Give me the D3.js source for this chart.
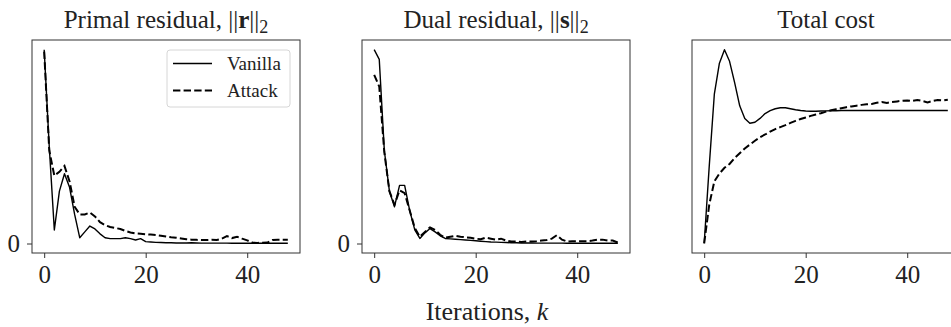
<!DOCTYPE html>
<html>
<head>
<meta charset="utf-8">
<script src="https://cdn.jsdelivr.net/npm/d3@7"></script>
<style>
  body { margin: 0; background: #fff; }
  svg { display: block; }
</style>
</head>
<body>
<div id="chart"></div>
<script>
// iteration index k = 0..48
const iterations = d3.range(0, 49);

// Primal residual ||r||_2 (normalised)
const primalVanilla = [1.0, 0.5, 0.07, 0.27, 0.36, 0.29, 0.15, 0.03, 0.06, 0.09,
  0.075, 0.05, 0.03, 0.025, 0.025, 0.025, 0.03, 0.025, 0.018, 0.025,
  0.01, 0.008, 0.006, 0.005, 0.004, 0.004, 0.003, 0.003, 0.003, 0.004,
  0.003, 0.002, 0.002, 0.002, 0.002, 0.002, 0.002, 0.001, 0.001, 0.001,
  0.001, 0.001, 0.001, 0.001, 0.001, 0.001, 0.001, 0.001, 0.001];
const primalAttack = [0.99, 0.48, 0.35, 0.37, 0.40, 0.32, 0.19, 0.15, 0.15, 0.16,
  0.14, 0.11, 0.095, 0.085, 0.08, 0.075, 0.065, 0.057, 0.052, 0.05,
  0.048, 0.046, 0.044, 0.04, 0.036, 0.032, 0.03, 0.026, 0.022, 0.02,
  0.019, 0.018, 0.018, 0.019, 0.018, 0.025, 0.038, 0.028, 0.035, 0.025,
  0.016, 0.005, 0.003, 0.004, 0.005, 0.018, 0.02, 0.02, 0.02];

// Dual residual ||s||_2 (normalised)
const dualVanilla = [1.0, 0.95, 0.48, 0.27, 0.19, 0.30, 0.30, 0.17, 0.07, 0.026,
  0.055, 0.077, 0.06, 0.04, 0.026, 0.024, 0.022, 0.02, 0.018, 0.016,
  0.014, 0.012, 0.01, 0.008, 0.007, 0.006, 0.005, 0.004, 0.004, 0.003,
  0.003, 0.003, 0.002, 0.002, 0.002, 0.002, 0.002, 0.002, 0.001, 0.001,
  0.001, 0.001, 0.001, 0.001, 0.001, 0.001, 0.001, 0.001, 0.001];
const dualAttack = [0.87, 0.81, 0.47, 0.27, 0.20, 0.275, 0.26, 0.17, 0.08, 0.035,
  0.06, 0.083, 0.07, 0.045, 0.03, 0.035, 0.04, 0.035, 0.032, 0.03,
  0.025, 0.022, 0.03, 0.025, 0.02, 0.025, 0.015, 0.01, 0.01, 0.008,
  0.01, 0.01, 0.012, 0.015, 0.018, 0.025, 0.043, 0.02, 0.01, 0.012,
  0.012, 0.012, 0.012, 0.015, 0.02, 0.02, 0.015, 0.015, 0.005];

// Total cost (normalised)
const costVanilla = [0, 0.40, 0.77, 0.93, 1.0, 0.94, 0.83, 0.71, 0.645, 0.62,
  0.625, 0.645, 0.67, 0.685, 0.695, 0.70, 0.70, 0.695, 0.69, 0.686,
  0.683, 0.682, 0.682, 0.683, 0.684, 0.685, 0.685, 0.686, 0.686, 0.686,
  0.686, 0.686, 0.686, 0.686, 0.686, 0.686, 0.686, 0.686, 0.686, 0.686,
  0.686, 0.686, 0.686, 0.686, 0.686, 0.686, 0.686, 0.686, 0.686];
const costAttack = [0, 0.2, 0.32, 0.36, 0.39, 0.41, 0.44, 0.465, 0.49, 0.51,
  0.53, 0.548, 0.562, 0.577, 0.59, 0.60, 0.61, 0.622, 0.632, 0.642,
  0.65, 0.658, 0.665, 0.672, 0.68, 0.687, 0.693, 0.698, 0.703, 0.707,
  0.711, 0.715, 0.718, 0.72, 0.726, 0.73, 0.725, 0.73, 0.733, 0.736,
  0.738, 0.735, 0.74, 0.735, 0.728, 0.735, 0.74, 0.738, 0.742];

const xTicks = [0, 20, 40];
const seriesNames = ['Vanilla', 'Attack'];

const W = 951, H = 327;
const frameW = 268, frameTop = 40, frameBottom = 253;
const textColor = '#222';
const serif = '"Liberation Serif", "DejaVu Serif", serif';

const panels = [
  { left: 32, title: ['Primal residual, ||', 'r', '||', '2'], vanilla: primalVanilla, attack: primalAttack, yTicks: [0], legend: true },
  { left: 362, title: ['Dual residual, ||', 's', '||', '2'], vanilla: dualVanilla, attack: dualAttack, yTicks: [0], legend: false },
  { left: 692, title: ['Total cost'], vanilla: costVanilla, attack: costAttack, yTicks: [], legend: false }
];

const svg = d3.select('#chart').append('svg')
  .attr('width', W)
  .attr('height', H)
  .attr('viewBox', `0 0 ${W} ${H}`);

// same padding rule as matplotlib: 5% of the data range on each side
const padded = (lo, hi) => {
  const p = (hi - lo) * 0.05;
  return [lo - p, hi + p];
};

panels.forEach(panel => {
  const g = svg.append('g');

  const x = d3.scaleLinear()
    .domain(padded(d3.min(iterations), d3.max(iterations)))
    .range([panel.left, panel.left + frameW]);

  const allVals = panel.vanilla.concat(panel.attack);
  const y = d3.scaleLinear()
    .domain(padded(d3.min(allVals), d3.max(allVals)))
    .range([frameBottom, frameTop]);

  // lines
  const line = vals => d3.line()
    .x((d, i) => x(iterations[i]))
    .y(d => y(d))(vals);

  g.append('path')
    .attr('d', line(panel.vanilla))
    .attr('fill', 'none')
    .attr('stroke', '#000')
    .attr('stroke-width', 1.4)
    .attr('stroke-linejoin', 'round');

  g.append('path')
    .attr('d', line(panel.attack))
    .attr('fill', 'none')
    .attr('stroke', '#000')
    .attr('stroke-width', 2)
    .attr('stroke-dasharray', '7.4,3.2');

  // frame
  g.append('rect')
    .attr('x', panel.left)
    .attr('y', frameTop)
    .attr('width', frameW)
    .attr('height', frameBottom - frameTop)
    .attr('fill', 'none')
    .attr('stroke', '#333')
    .attr('stroke-width', 1);

  // axes
  const xAxis = g.append('g')
    .attr('transform', `translate(0, ${frameBottom})`)
    .call(d3.axisBottom(x).tickValues(xTicks).tickSize(5).tickPadding(7).tickFormat(d3.format('d')));

  const yAxis = g.append('g')
    .attr('transform', `translate(${panel.left}, 0)`)
    .call(d3.axisLeft(y).tickValues(panel.yTicks).tickSize(5).tickPadding(7).tickFormat(d3.format('d')));

  [xAxis, yAxis].forEach(a => {
    a.select('.domain').remove();
    a.selectAll('.tick line').attr('stroke', '#333');
    a.selectAll('text')
      .attr('fill', textColor)
      .style('font-family', serif)
      .style('font-size', '25px');
  });

  // title
  const t = g.append('text')
    .attr('x', panel.left + frameW / 2)
    .attr('y', 28)
    .attr('text-anchor', 'middle')
    .attr('fill', textColor)
    .style('font-family', serif)
    .style('font-size', '25px');
  t.append('tspan').text(panel.title[0]);
  if (panel.title.length > 1) {
    t.append('tspan').attr('font-weight', 'bold').text(panel.title[1]);
    t.append('tspan').text(panel.title[2]);
    t.append('tspan').attr('font-size', '18px').attr('dy', 5).text(panel.title[3]);
  }

  // legend
  if (panel.legend) {
    const lg = g.append('g').attr('transform', 'translate(167, 50)');
    lg.append('rect')
      .attr('width', 123)
      .attr('height', 57)
      .attr('rx', 3)
      .attr('fill', 'rgba(255,255,255,0.8)')
      .attr('stroke', '#d6d6d6');
    seriesNames.forEach((name, i) => {
      const yy = 13.5 + i * 27;
      lg.append('line')
        .attr('x1', 6).attr('x2', 45)
        .attr('y1', yy).attr('y2', yy)
        .attr('stroke', '#000')
        .attr('stroke-width', i === 0 ? 1.4 : 2)
        .attr('stroke-dasharray', i === 0 ? null : '7.4,3.2');
      lg.append('text')
        .attr('x', 60)
        .attr('y', yy)
        .attr('dy', '0.35em')
        .attr('fill', textColor)
        .style('font-family', serif)
        .style('font-size', '19px')
        .text(name);
    });
  }
});

// shared x label
const xl = svg.append('text')
  .attr('x', 487)
  .attr('y', 320)
  .attr('text-anchor', 'middle')
  .attr('fill', textColor)
  .style('font-family', serif)
  .style('font-size', '26px');
xl.append('tspan').text('Iterations, ');
xl.append('tspan').attr('font-style', 'italic').text('k');
</script>
</body>
</html>
